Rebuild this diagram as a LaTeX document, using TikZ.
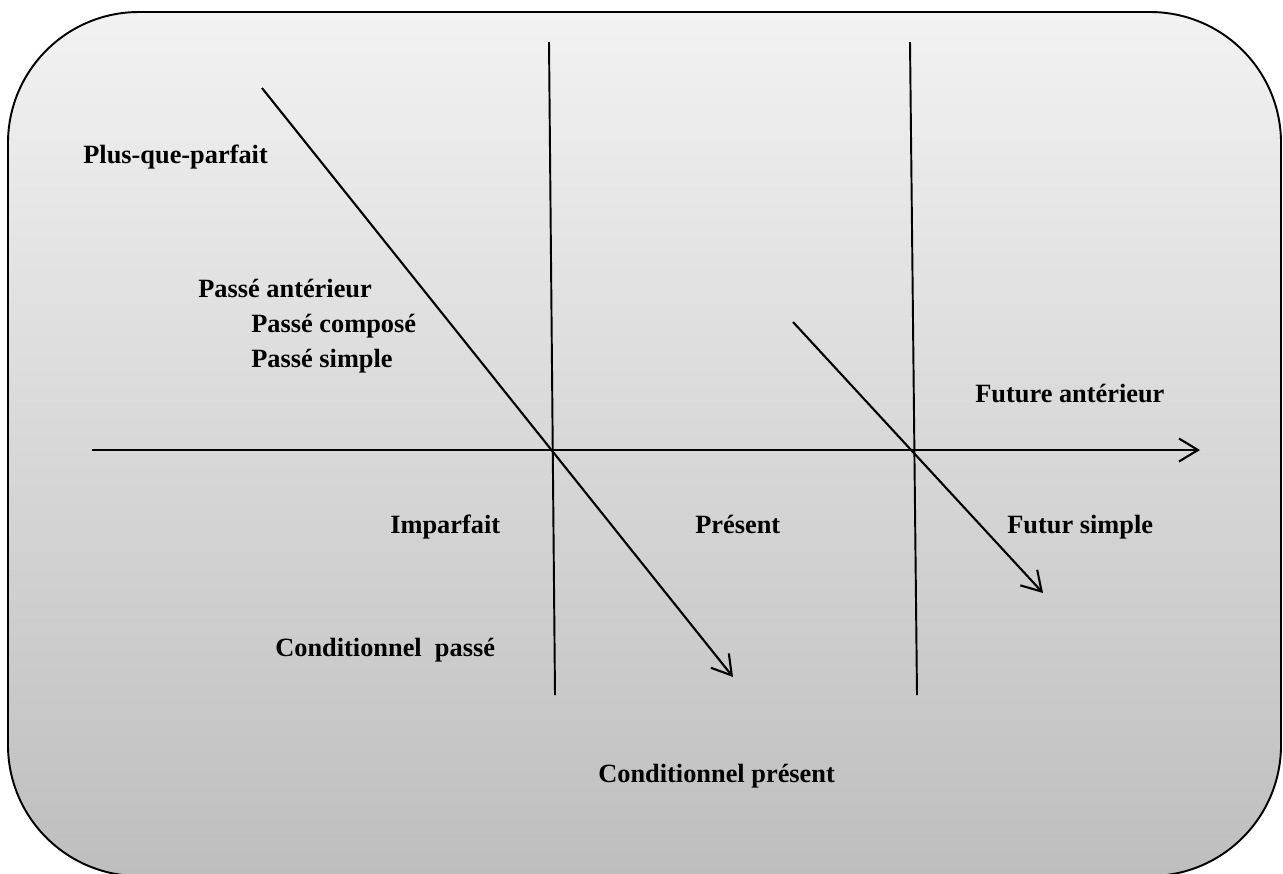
\documentclass[tikz,border=0pt]{standalone}
\usepackage{fontspec}
\setmainfont{Liberation Serif}
\usetikzlibrary{arrows.meta, positioning}
\definecolor{boxtop}{RGB}{242, 242, 242}
\definecolor{boxbottom}{RGB}{190, 190, 190}

\tikzset{
  tense/.style={anchor=base west, inner sep=0pt, font=\fontsize{15}{18}\selectfont\bfseries},
  axisline/.style={line width=1.2pt, -{Straight Barb[length=3.8mm, width=4.6mm, line width=1.2pt]}},
  divider/.style={line width=1.1pt},
}

\begin{document}
\begin{tikzpicture}[x=0.02cm, y=-0.02cm]
  \useasboundingbox (0,0) rectangle (1283,873);
  % background box
  \draw[line width=1.1pt, rounded corners=2.62cm, top color=boxtop, bottom color=boxbottom]
    (8,12) rectangle (1281,876);

  % end points of the lines
  \coordinate (axisstart) at (92,450);
  \coordinate (axisend) at (1200,450);
  \coordinate (pasttop) at (549,42);
  \coordinate (pastbottom) at (555,695);
  \coordinate (futuretop) at (910,42);
  \coordinate (futurebottom) at (917,695);
  \coordinate (pastfrom) at (262,88);
  \coordinate (pastto) at (733,677);
  \coordinate (futurefrom) at (793,322);
  \coordinate (futureto) at (1043,593);

  \draw[divider] (pasttop) -- (pastbottom);
  \draw[divider] (futuretop) -- (futurebottom);
  \draw[axisline] (axisstart) -- (axisend);
  \draw[axisline] (pastfrom) -- (pastto);
  \draw[axisline] (futurefrom) -- (futureto);

  % tenses
  \node[tense] (pqp) at (83,163) {Plus-que-parfait};
  \node[tense] (pant) at (198,297) {Passé antérieur};
  \node[tense] (pcomp) at (251,332) {Passé composé};
  \node[tense] (psimp) at (251,367) {Passé simple};
  \node[tense] (fant) at (975,402) {Future antérieur};
  \node[tense] (imp) at (390,533) {Imparfait};
  \node[tense] (pres) at (695,533) {Présent};
  \node[tense] (fsimp) at (1007,533) {Futur simple};
  \node[tense] (cpasse) at (275,656) {Conditionnel\ \ passé};
  \node[tense] (cpres) at (598,782) {Conditionnel présent};
\end{tikzpicture}
\end{document}
